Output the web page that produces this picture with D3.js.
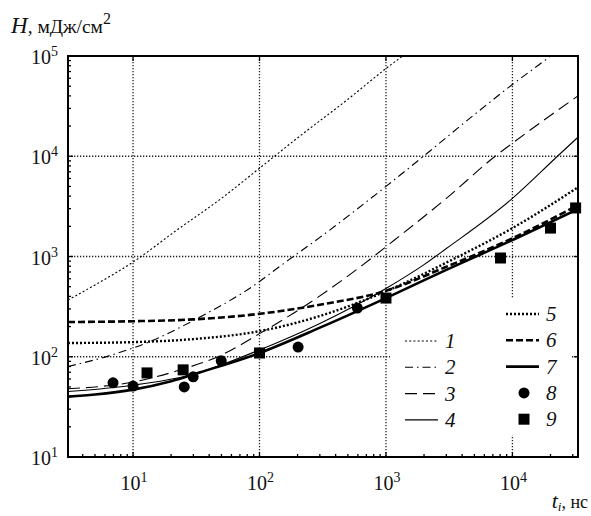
<!DOCTYPE html>
<html lang="ru">
<head>
<meta charset="UTF-8">
<title>H(t)</title>
<script src="https://d3js.org/d3.v7.min.js"></script>
<style>
  body { margin: 0; background: #fff; }
  text { font-family: "Liberation Serif", "DejaVu Serif", serif; fill: #111; }
</style>
</head>
<body>
<svg width="591" height="516"></svg>
<script>
// curves 1-7 : pulse duration t (ns) and fluence H (mJ/cm2)
var t1 = [3.06, 5, 10, 22, 50, 100, 210, 500, 1000, 1500]
var h1 = [368, 520, 880, 1820, 3800, 7600, 16000, 37000, 75000, 110000]
var t2 = [3.06, 6.6, 12.9, 34, 87.5, 155, 300, 1000, 1980, 5000, 10000, 20000, 25000]
var h2 = [80, 103, 138, 250, 500, 850, 1550, 5000, 10000, 26000, 52000, 100000, 125000]
var t3 = [3.06, 10, 22, 50, 100, 210, 660, 1080, 3000, 7300, 10000, 33000]
var h3 = [48, 56, 72, 104, 170, 300, 830, 1350, 3800, 10000, 13500, 40000]
var t4 = [3.06, 10, 30, 100, 300, 1000, 2000, 3000, 10000, 22700, 33000]
var h4 = [45, 52, 67, 117, 215, 480, 830, 1200, 3800, 10000, 15500]
var t5 = [3.06, 10, 30, 100, 300, 1000, 3400, 10000, 33000]
var h5 = [137, 140, 150, 180, 255, 450, 940, 1920, 4900]
var t6 = [3.06, 10, 30, 100, 300, 1000, 3000, 10000, 33000]
var h6 = [222, 226, 236, 268, 330, 455, 790, 1520, 3250]
var t7 = [3.06, 5, 10, 20, 34, 100, 300, 1000, 3000, 10000, 33000]
var h7 = [40, 42, 47, 57, 70, 109, 195, 385, 735, 1460, 2980]
// experiment 8 (circles) and 9 (squares)
var t8 = [6.95, 10, 25.4, 29.9, 49.8, 202, 594]
var h8 = [55, 51, 50, 63, 91, 125, 306]
var t9 = [12.9, 24.9, 100, 1000, 8050, 20000, 31600]
var h9 = [69, 74, 109, 385, 966, 1920, 3050]

var xTicks = [10, 100, 1000, 10000]
var yTicks = [10, 100, 1000, 10000, 100000]
var lineLabels = ['1', '2', '3', '4', '5', '6', '7']

var svg = d3.select('svg')
var pl = 68, pr = 578, pt = 56, pb = 457

var x = d3.scaleLog().domain([3.06, 33000]).range([pl, pr])
var y = d3.scaleLog().domain([10, 100000]).range([pb, pt])

svg.append('defs').append('clipPath').attr('id', 'clip')
  .append('rect').attr('x', pl).attr('y', pt)
  .attr('width', pr - pl).attr('height', pb - pt)

// grid
var grid = svg.append('g').attr('stroke', '#222').attr('stroke-width', 1.3)
  .attr('stroke-dasharray', '1.3,1.7')
grid.selectAll('.gx').data(xTicks).enter().append('line')
  .attr('x1', d => x(d)).attr('x2', d => x(d)).attr('y1', pt).attr('y2', pb)
grid.selectAll('.gy').data(yTicks.slice(1, 4)).enter().append('line')
  .attr('y1', d => y(d)).attr('y2', d => y(d)).attr('x1', pl).attr('x2', pr)

// legend background hides the grid
svg.append('rect').attr('x', 390).attr('y', 298).attr('width', 182).attr('height', 137)
  .attr('fill', '#fff')

// ticks
var xMinor = x.ticks().filter(d => xTicks.indexOf(d) < 0)
var yMinor = y.ticks().filter(d => yTicks.indexOf(d) < 0)
var tk = svg.append('g').attr('stroke', '#000').attr('stroke-width', 1.3)
tk.selectAll('.mx').data(xMinor).enter().append('line')
  .attr('x1', d => x(d)).attr('x2', d => x(d)).attr('y1', pb).attr('y2', pb - 3)
tk.selectAll('.my').data(yMinor).enter().append('line')
  .attr('y1', d => y(d)).attr('y2', d => y(d)).attr('x1', pl).attr('x2', pl + 3)
tk.selectAll('.Mx').data(xTicks).enter().append('line')
  .attr('x1', d => x(d)).attr('x2', d => x(d)).attr('y1', pb).attr('y2', pb - 5)
tk.selectAll('.Mxt').data(xTicks).enter().append('line')
  .attr('x1', d => x(d)).attr('x2', d => x(d)).attr('y1', pt).attr('y2', pt + 5)
tk.selectAll('.My').data(yTicks).enter().append('line')
  .attr('y1', d => y(d)).attr('y2', d => y(d)).attr('x1', pl).attr('x2', pl + 5)
tk.selectAll('.Myr').data(yTicks).enter().append('line')
  .attr('y1', d => y(d)).attr('y2', d => y(d)).attr('x1', pr).attr('x2', pr - 4)

// curves
var styles = [
  { w: 1.1, dash: '2,2.2' },
  { w: 1.1, dash: '8,4,1.5,4' },
  { w: 1.1, dash: '12,6' },
  { w: 1.1, dash: null },
  { w: 2.4, dash: '2,2' },
  { w: 2.6, dash: '7,3' },
  { w: 2.6, dash: null }
]
var series = [[t1, h1], [t2, h2], [t3, h3], [t4, h4], [t5, h5], [t6, h6], [t7, h7]]

var line = d3.line()
  .x(d => x(d[0])).y(d => y(d[1]))
  .curve(d3.curveMonotoneX)

var curves = svg.append('g').attr('clip-path', 'url(#clip)')
series.forEach(function(s, i) {
  var pts = s[0].map((t, j) => [t, s[1][j]])
  curves.append('path').datum(pts)
    .attr('d', line)
    .attr('fill', 'none')
    .attr('stroke', '#000')
    .attr('stroke-width', styles[i].w)
    .attr('stroke-dasharray', styles[i].dash)
})

// markers
svg.append('g').selectAll('circle').data(t8).enter().append('circle')
  .attr('cx', d => x(d)).attr('cy', (d, i) => y(h8[i])).attr('r', 5.5).attr('fill', '#000')
svg.append('g').selectAll('rect').data(t9).enter().append('rect')
  .attr('x', d => x(d) - 5.5).attr('y', (d, i) => y(h9[i]) - 5.5)
  .attr('width', 11).attr('height', 11).attr('fill', '#000')

// frame
svg.append('rect').attr('x', pl).attr('y', pt).attr('width', pr - pl)
  .attr('height', pb - pt).attr('fill', 'none').attr('stroke', '#000').attr('stroke-width', 2)

// tick labels
function power(g, e) {
  g.append('tspan').text('10')
  g.append('tspan').attr('dy', -8).attr('font-size', 14).text(e)
}
svg.selectAll('.xl').data(xTicks).enter().append('text')
  .attr('x', d => x(d) + 1).attr('y', 490).attr('text-anchor', 'middle')
  .attr('font-size', 20)
  .each(function(d) { power(d3.select(this), Math.round(Math.log10(d))) })
svg.selectAll('.yl').data(yTicks).enter().append('text')
  .attr('x', 58).attr('y', d => y(d) + 8).attr('text-anchor', 'end')
  .attr('font-size', 20)
  .each(function(d) { power(d3.select(this), Math.round(Math.log10(d))) })

// axis titles
var yt = svg.append('text').attr('x', 11).attr('y', 33).attr('font-size', 19.5)
yt.append('tspan').attr('font-style', 'italic').attr('font-size', 23).text('H')
yt.append('tspan').text(', мДж/см')
yt.append('tspan').attr('dy', -9).attr('font-size', 16).text('2')

var xt = svg.append('text').attr('x', 588).attr('y', 508).attr('text-anchor', 'end').attr('font-size', 18)
xt.append('tspan').attr('font-style', 'italic').attr('font-size', 22).text('t')
xt.append('tspan').attr('font-style', 'italic').attr('font-size', 13).attr('dy', 3).text('i')
xt.append('tspan').attr('dy', -3).text(', нс')

// legend
var legX = [405, 506], legY0 = [341, 314], step = 26.3
var leg = svg.append('g')
lineLabels.forEach(function(lab, i) {
  var col = i < 4 ? 0 : 1
  var row = i < 4 ? i : i - 4
  var ly = legY0[col] + row * step
  leg.append('line').attr('x1', legX[col]).attr('x2', legX[col] + 33)
    .attr('y1', ly).attr('y2', ly).attr('stroke', '#000')
    .attr('stroke-width', styles[i].w).attr('stroke-dasharray', styles[i].dash)
  leg.append('text').attr('x', legX[col] + 40).attr('y', ly + 7)
    .attr('font-size', 21).attr('font-style', 'italic').text(lab)
})
var ly8 = legY0[1] + 3 * step, ly9 = legY0[1] + 4 * step
leg.append('circle').attr('cx', 524).attr('cy', ly8).attr('r', 5.5).attr('fill', '#000')
leg.append('rect').attr('x', 518.5).attr('y', ly9 - 5.5).attr('width', 11).attr('height', 11).attr('fill', '#000')
leg.append('text').attr('x', 546).attr('y', ly8 + 7).attr('font-size', 21).attr('font-style', 'italic').text('8')
leg.append('text').attr('x', 546).attr('y', ly9 + 7).attr('font-size', 21).attr('font-style', 'italic').text('9')
</script>
</body>
</html>
